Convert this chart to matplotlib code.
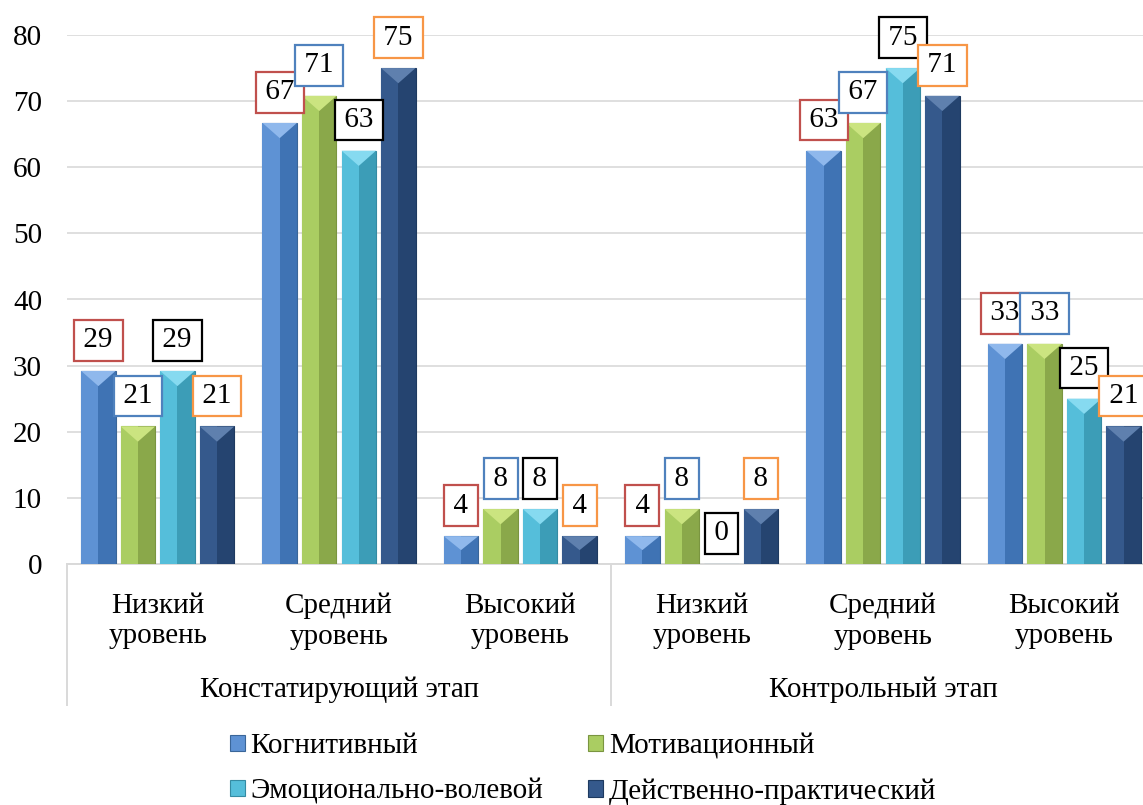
import matplotlib
matplotlib.use("Agg")
import matplotlib.pyplot as plt
import matplotlib.transforms as mtransforms
import numpy as np

# data (percent)
levels = ["Низкий\nуровень", "Средний\nуровень", "Высокий\nуровень",
          "Низкий\nуровень", "Средний\nуровень", "Высокий\nуровень"]
stages = ["Констатирующий этап", "Контрольный этап"]
series_names = ["Когнитивный", "Мотивационный", "Эмоционально-волевой", "Действенно-практический"]
kognitiv = [29.2, 66.7, 4.2, 4.2, 62.5, 33.3]
motiv = [20.8, 70.8, 8.3, 8.3, 66.7, 33.3]
emoc = [29.2, 62.5, 8.3, 0.0, 75.0, 25.0]
deistv = [20.8, 75.0, 4.2, 8.3, 70.8, 20.8]
yticks = [0, 10, 20, 30, 40, 50, 60, 70, 80]

#	left half, right half, top bevel, edge
shades = [("#5E92D4", "#3F73B4", "#8FB8EC", "#3A6699"),
          ("#AACD62", "#8AA84A", "#CBE480", "#7A9540"),
          ("#55BEDA", "#3C9DB7", "#86DAF0", "#358BA3"),
          ("#35598C", "#254470", "#5F80AE", "#1E3A60")]
box_colors = ["#C0504D", "#4F81BD", "#000000", "#F79646"]

FS = 21
plt.rcParams["font.family"] = ["Liberation Serif", "DejaVu Serif"]
plt.rcParams["font.size"] = FS

W, H = 1143, 805
fig = plt.figure(figsize=(W / 100, H / 100), dpi=100)
# axes runs a bit past the right edge, as in the reference
ax = fig.add_axes([67 / W, (H - 564) / H, 1088 / W, 529 / H])

pitch = 0.218
width = 0.19
x = np.arange(len(levels))
allData = [kognitiv, motiv, emoc, deistv]

for i, vals in enumerate(allData):
	left, right, top, edge = shades[i]
	xs = x + (i - 1.5) * pitch
	ax.bar(xs, vals, width, color=right, edgecolor=edge, linewidth=0.8, zorder=3)
	ax.bar(xs - width / 4, vals, width / 2, color=left, linewidth=0, zorder=3)
	for xc, v in zip(xs, vals):
		if v > 0:
			th = min(2.3, v * 0.5)
			ax.fill([xc - width / 2, xc + width / 2, xc], [v, v, v - th], color=top, lw=0, zorder=4)
		ax.annotate("\u200a" + str(int(v + 0.5)) + "\u200a", (xc, v), xytext=(0, 22),
		            textcoords="offset points", ha="center", va="center", fontsize=FS, zorder=5,
		            bbox=dict(boxstyle="square,pad=0.25", fc="white", ec=box_colors[i], lw=1.6))

ax.set_xlim(-0.5, 5.5)
ax.set_ylim(0, 80)
ax.set_yticks(yticks)
ax.tick_params(axis="y", length=0, pad=18, labelsize=FS)
ax.set_xticks([])
ax.grid(axis="y", color="#D9D9D9", lw=1.2, zorder=0)
ax.set_axisbelow(True)
for s in ["left", "right", "top"]:
	ax.spines[s].set_visible(False)
ax.spines["bottom"].set_color("#D9D9D9")
ax.spines["bottom"].set_linewidth(1.4)

trans = mtransforms.blended_transform_factory(ax.transData, ax.transAxes)
for xc, lab in zip(x, levels):
	ax.text(xc, -0.108, lab, transform=trans, ha="center", va="center", fontsize=FS, linespacing=1.22)
for k, st in enumerate(stages):
	ax.text(1 + 3 * k, -0.237, st, transform=trans, ha="center", va="center", fontsize=FS)
for xs in [-0.5, 2.5]:
	ax.plot([xs, xs], [0, -0.267], transform=trans, color="#D9D9D9", lw=1.4, clip_on=False)

handles = [plt.Rectangle((0, 0), 1, 1, fc=shades[i][0], ec=shades[i][3], lw=0.8) for i in range(4)]
order = [0, 2, 1, 3]
fig.legend([handles[i] for i in order], [series_names[i] for i in order], ncol=2,
           loc="center", bbox_to_anchor=(583 / W, 1 - 769 / H), frameon=False,
           handlelength=0.5, handleheight=0.5, handletextpad=0.2, columnspacing=1.55,
           labelspacing=0.65, fontsize=FS)

fig.savefig("out.png", dpi=100)
